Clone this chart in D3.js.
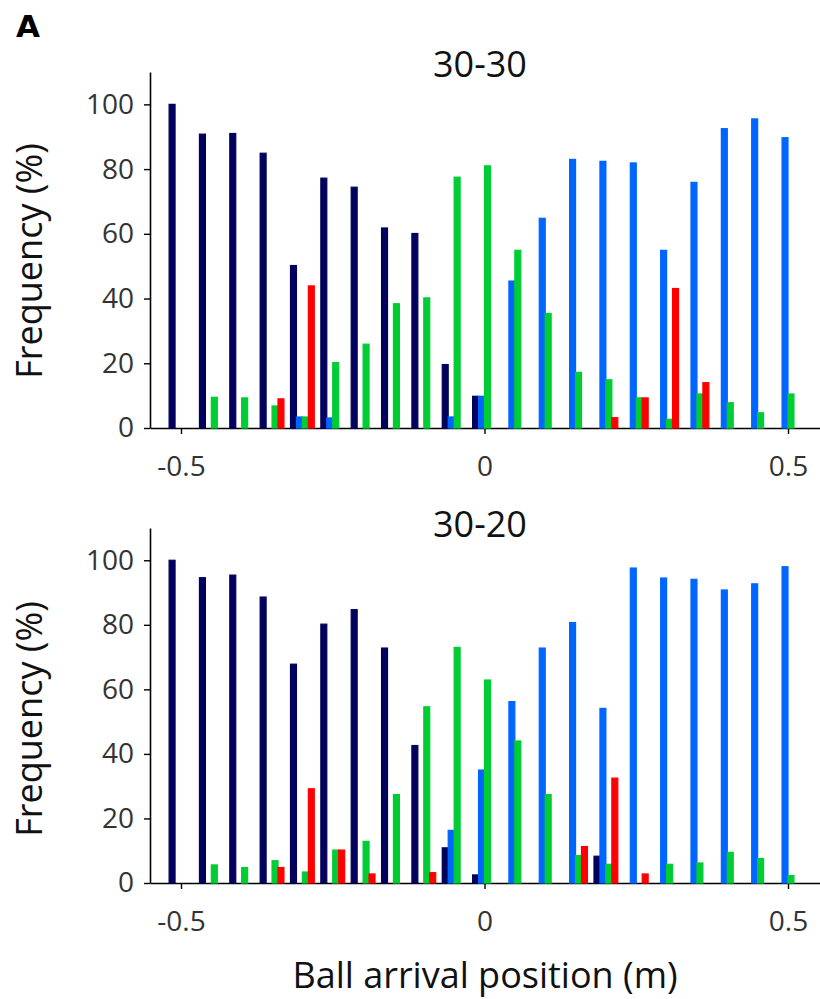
<!DOCTYPE html>
<html>
<head>
<meta charset="utf-8">
<script src="https://cdn.jsdelivr.net/npm/d3@7"></script>
<style>
  html, body { margin: 0; padding: 0; background: #fff; }
  svg { display: block; }
  text { font-family: "Open Sans", "Noto Sans", sans-serif; }
  text.panel-letter { font-family: "DejaVu Sans", "Liberation Sans", sans-serif; font-weight: bold; font-size: 31px; }
</style>
</head>
<body>
<svg id="chart" width="820" height="999"></svg>
<script>
// Ball arrival positions (m)
const positions = [-0.5, -0.45, -0.4, -0.35, -0.3, -0.25, -0.2, -0.15, -0.1, -0.05, 0,
                   0.05, 0.1, 0.15, 0.2, 0.25, 0.3, 0.35, 0.4, 0.45, 0.5, 0.55];
const seriesNames = ["navy", "blue", "green", "red"];
const seriesColors = ["#02025e", "#0066ff", "#00cc33", "#ff0000"];
const yTicks = [0, 20, 40, 60, 80, 100];
const xTicks = [-0.5, 0, 0.5];
const xTickLabels = ["-0.5", "0", "0.5"];

// Panel "30-30"
const title1 = "30-30";
const p1Navy  = [100, 90.8, 91.0, 84.9, 50.2, 77.2, 74.4, 61.8, 60.1, 19.6, 9.8, 0, 0, 0, 0, 0, 0, 0, 0, 0, 0, 0];
const p1Blue  = [0, 0, 0, 0, 3.4, 3.1, 0, 0, 0, 3.4, 9.8, 45.4, 64.8, 83.0, 82.4, 81.9, 54.9, 75.9, 92.5, 95.5, 89.7, 0];
const p1Green = [0, 9.5, 9.3, 6.8, 3.4, 20.2, 25.9, 38.4, 40.2, 77.5, 81.0, 54.9, 35.4, 17.2, 14.9, 9.3, 2.7, 10.5, 7.8, 4.7, 10.5, 0];
const p1Red   = [0, 0, 0, 9.0, 43.9, 0, 0, 0, 0, 0, 0, 0, 0, 0, 3.2, 9.3, 43.1, 14.0, 0, 0, 0, 0];

// Panel "30-20"
const title2 = "30-20";
const p2Navy  = [100, 94.6, 95.4, 88.6, 67.8, 80.2, 84.7, 72.8, 42.6, 10.9, 2.5, 0, 0, 0, 8.3, 0, 0, 0, 0, 0, 0, 0];
const p2Blue  = [0, 0, 0, 0, 0, 0, 0, 0, 0, 16.3, 35.0, 56.2, 72.8, 80.7, 54.1, 97.6, 94.5, 94.1, 90.8, 92.7, 98.0, 0];
const p2Green = [0, 5.6, 4.8, 6.9, 3.4, 10.2, 12.9, 27.4, 54.6, 73.0, 62.9, 44.0, 27.4, 8.5, 5.8, 0, 5.8, 6.2, 9.5, 7.6, 2.3, 0];
const p2Red   = [0, 0, 0, 4.8, 29.2, 10.2, 2.8, 0, 3.2, 0, 0, 0, 0, 11.3, 32.5, 2.8, 0, 0, 0, 0, 0, 0];

const panels = [
  { title: title1, series: [p1Navy, p1Blue, p1Green, p1Red], top: 72, bottom: 428, titleY: 77, labelY: 261 },
  { title: title2, series: [p2Navy, p2Blue, p2Green, p2Red], top: 528, bottom: 883, titleY: 537, labelY: 719 }
];

const svg = d3.select("#chart");
const left = 150, right = 820;
const xBase = d3.scaleLinear().domain([-0.5, 0.5]).range([181, 788]);
const x = d3.scaleLinear().domain([xBase.invert(left), xBase.invert(right)]).range([left, right]);
const barW = 0.0098; // bar width in data units

svg.append("text").attr("class", "panel-letter").attr("x", 16).attr("y", 37)
  .attr("fill", "#000").text("A");

panels.forEach(p => {
  const y = d3.scaleLinear().domain([0, 110]).range([p.bottom, p.top]);
  const g = svg.append("g");

  // title
  g.append("text").attr("x", 480).attr("y", p.titleY).attr("text-anchor", "middle")
    .style("font-size", "36px").attr("fill", "#111").text(p.title);

  // y axis label
  g.append("text").attr("transform", `translate(42,${p.labelY}) rotate(-90)`)
    .attr("text-anchor", "middle").style("font-size", "36px").attr("fill", "#111")
    .text("Frequency (%)");

  // y axis
  const ya = g.append("g").attr("transform", `translate(${left},0)`)
    .call(d3.axisLeft(y).tickValues(yTicks).tickSize(6).tickSizeOuter(0).tickPadding(10));
  ya.select(".domain").attr("stroke", "#000").attr("stroke-width", 1.6);
  ya.selectAll(".tick line").attr("stroke", "#000").attr("stroke-width", 1.4);
  ya.selectAll(".tick text").style("font-size", "28px").style("font-family", "'Open Sans', sans-serif").attr("fill", "#333");

  // x axis
  const xa = g.append("g").attr("transform", `translate(0,${p.bottom})`)
    .call(d3.axisBottom(x).tickValues(xTicks).tickFormat((d, i) => xTickLabels[i])
      .tickSize(6).tickSizeOuter(0).tickPadding(22));
  xa.select(".domain").attr("stroke", "#000").attr("stroke-width", 1.6);
  xa.selectAll(".tick line").attr("stroke", "#000").attr("stroke-width", 1.4);
  xa.selectAll(".tick text").style("font-size", "28px").style("font-family", "'Open Sans', sans-serif").attr("fill", "#333");

  // bars
  p.series.forEach((vals, si) => {
    g.append("g").selectAll("rect").data(positions.map((pos, i) => ({ pos, v: vals[i] })))
      .join("rect")
      .attr("x", d => x(d.pos + (si - 2) * barW))
      .attr("width", d => x(d.pos + (si - 1) * barW) - x(d.pos + (si - 2) * barW))
      .attr("y", d => y(d.v))
      .attr("height", d => y(0) - y(d.v))
      .attr("fill", seriesColors[si])
      .attr("stroke", seriesColors[si])
      .attr("stroke-width", 1.2);
  });
});

svg.append("text").attr("x", 485).attr("y", 988).attr("text-anchor", "middle")
  .style("font-size", "36px").attr("fill", "#111").text("Ball arrival position (m)");
</script>
</body>
</html>
